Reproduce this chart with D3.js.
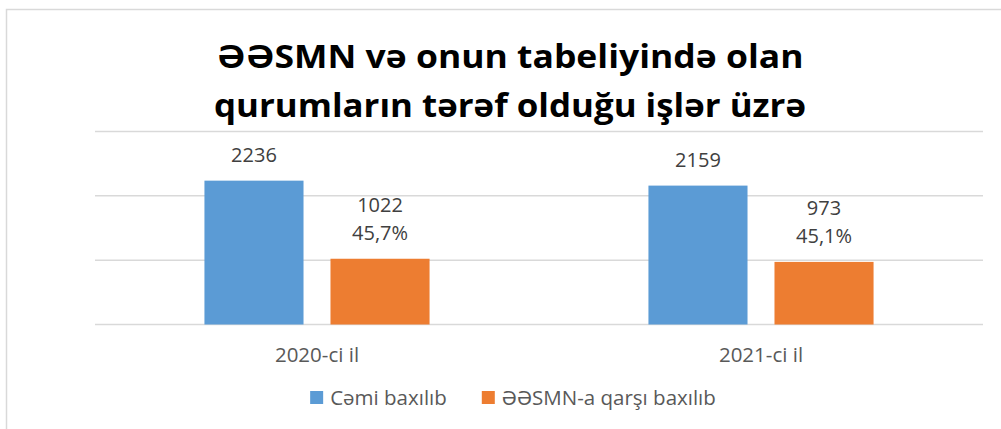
<!DOCTYPE html>
<html>
<head>
<meta charset="utf-8">
<script src="https://cdn.jsdelivr.net/npm/d3@7"></script>
<style>
  html, body { margin: 0; padding: 0; background: #fff; }
  svg { display: block; }
</style>
</head>
<body>
<svg width="1001" height="429"></svg>
<script>
const svg = d3.select("svg");
const width = +svg.attr("width");
const height = +svg.attr("height");

// data
const titleLines = ["ƏƏSMN və onun tabeliyində olan", "qurumların tərəf olduğu işlər üzrə"];
const categories = ["2020-ci il", "2021-ci il"];
const seriesNames = ["Cəmi baxılıb", "ƏƏSMN-a qarşı baxılıb"];
const totalValues = [2236, 2159];
const againstValues = [1022, 973];
const againstShares = ["45,7%", "45,1%"];
const yTicks = [0, 1000, 2000, 3000];
const colors = ["#5b9bd5", "#ed7d31"];

const font = "'Open Sans', 'Noto Sans', sans-serif";
const plot = { left: 95, right: 983, top: 131.5, bottom: 324.5 };

// chart frame (right and bottom edges fall outside the picture)
svg.append("rect")
    .attr("x", 6.5).attr("y", 9.5)
    .attr("width", 1010).attr("height", 440)
    .attr("fill", "none")
    .attr("stroke", "#d9d9d9")
    .attr("stroke-width", 1.5);

// title
const titleWidths = [587, 592];
const titleY = [68, 117];
titleLines.forEach((line, i) => {
    const t = svg.append("text")
        .attr("x", 510)
        .attr("y", titleY[i])
        .attr("text-anchor", "middle")
        .attr("font-family", font)
        .attr("font-weight", "bold")
        .attr("font-size", 32)
        .attr("fill", "#000")
        .text(line);
    const w = t.node().getComputedTextLength();
    if (Math.abs(w - titleWidths[i]) > 4) {
        t.attr("textLength", titleWidths[i]).attr("lengthAdjust", "spacingAndGlyphs");
    }
});

const y = d3.scaleLinear()
    .domain([0, 3000])
    .range([plot.bottom, plot.top]);

const x0 = d3.scaleBand()
    .domain(categories)
    .range([plot.left, plot.right])
    .paddingInner(0.493)
    .paddingOuter(0.2465);

const x1 = d3.scaleBand()
    .domain(seriesNames)
    .range([0, x0.bandwidth()])
    .paddingInner(0.214);

// gridlines
svg.append("g")
    .selectAll("line")
    .data(yTicks)
    .join("line")
    .attr("x1", plot.left)
    .attr("x2", plot.right)
    .attr("y1", d => y(d))
    .attr("y2", d => y(d))
    .attr("stroke", "#d9d9d9")
    .attr("stroke-width", 1.5);

const rows = categories.map((c, i) => ({
    cat: c,
    bars: [
        { series: seriesNames[0], value: totalValues[i], labels: [String(totalValues[i])] },
        { series: seriesNames[1], value: againstValues[i], labels: [String(againstValues[i]), againstShares[i]] }
    ]
}));

const groups = svg.append("g")
    .selectAll("g")
    .data(rows)
    .join("g")
    .attr("transform", d => `translate(${x0(d.cat)},0)`);

groups.selectAll("rect")
    .data(d => d.bars)
    .join("rect")
    .attr("x", d => x1(d.series))
    .attr("y", d => y(d.value))
    .attr("width", x1.bandwidth())
    .attr("height", d => y(0) - y(d.value))
    .attr("fill", (d, i) => colors[i]);

// data labels
groups.selectAll("text.lbl")
    .data(d => d.bars)
    .join("text")
    .attr("class", "lbl")
    .attr("text-anchor", "middle")
    .attr("font-family", font)
    .attr("font-size", 20)
    .attr("fill", "#404040")
    .each(function(d) {
        const t = d3.select(this);
        const cx = x1(d.series) + x1.bandwidth() / 2;
        const n = d.labels.length;
        d.labels.forEach((s, k) => {
            t.append("tspan")
                .attr("x", cx)
                .attr("y", y(d.value) - 19 - (n - 1 - k) * 27.5)
                .text(s);
        });
    });

// category axis labels
svg.append("g")
    .selectAll("text")
    .data(categories)
    .join("text")
    .attr("x", d => x0(d) + x0.bandwidth() / 2)
    .attr("y", 362)
    .attr("text-anchor", "middle")
    .attr("font-family", font)
    .attr("font-size", 20.5)
    .attr("fill", "#595959")
    .text(d => d);

// legend
const legend = svg.append("g");
let lx = 0;
seriesNames.forEach((name, i) => {
    const g = legend.append("g").attr("transform", `translate(${lx},0)`);
    g.append("rect")
        .attr("x", 0).attr("y", 391)
        .attr("width", 13).attr("height", 13)
        .attr("fill", colors[i]);
    const t = g.append("text")
        .attr("x", 20)
        .attr("y", 405)
        .attr("font-family", font)
        .attr("font-size", 20.5)
        .attr("fill", "#595959")
        .text(name);
    lx += 20 + t.node().getComputedTextLength() + 35;
});
const legendW = lx - 35;
legend.attr("transform", `translate(${513 - legendW / 2},0)`);
</script>
</body>
</html>
